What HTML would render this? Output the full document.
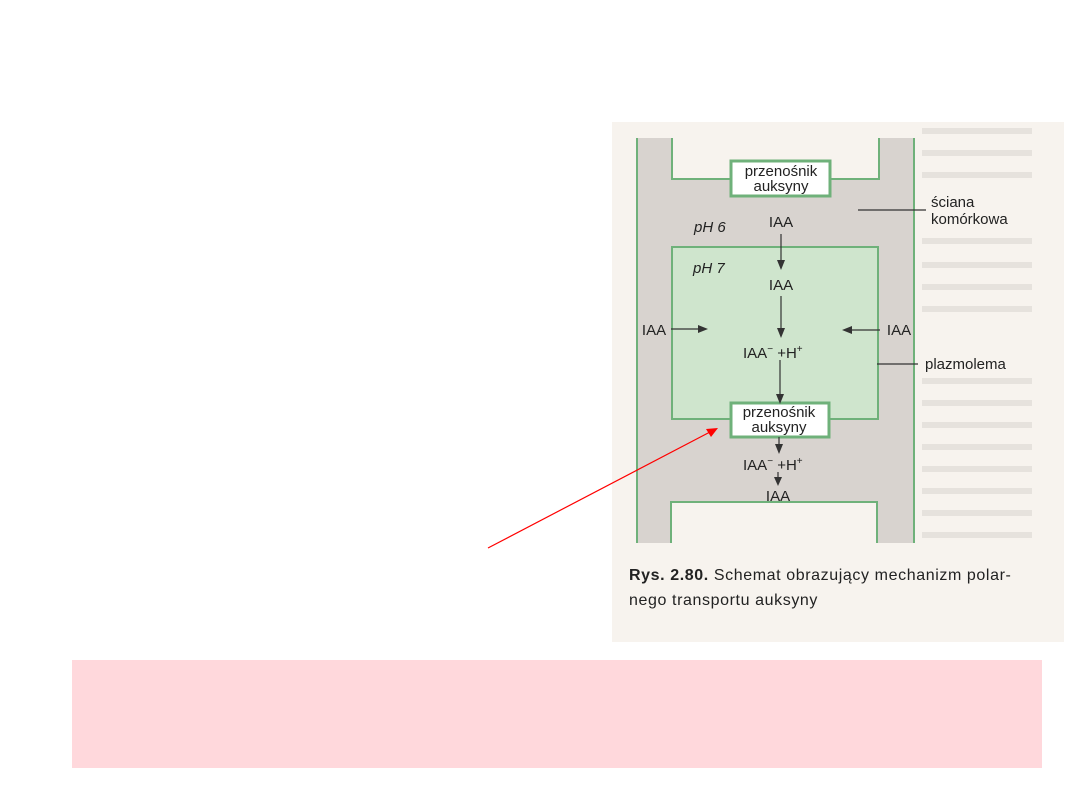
<!DOCTYPE html>
<html><head><meta charset="utf-8"><style>
body{margin:0;width:1080px;height:810px;background:#fff;position:relative;overflow:hidden;font-family:"Liberation Sans",sans-serif}
.pink{position:absolute;left:72px;top:660px;width:970px;height:108px;background:#ffd8dc}
</style></head><body>
<div class="pink"></div>
<svg width="1080" height="810" style="position:absolute;left:0;top:0" font-family="Liberation Sans, sans-serif">
<rect x="612" y="122" width="452" height="520" fill="#f7f3ee"/>
<g fill="#dcd7d2" opacity="0.6">
<rect x="922" y="128" width="110" height="6"/><rect x="922" y="150" width="110" height="6"/><rect x="922" y="172" width="110" height="6"/><rect x="922" y="238" width="110" height="6"/><rect x="922" y="262" width="110" height="6"/><rect x="922" y="284" width="110" height="6"/><rect x="922" y="306" width="110" height="6"/><rect x="922" y="378" width="110" height="6"/><rect x="922" y="400" width="110" height="6"/><rect x="922" y="422" width="110" height="6"/><rect x="922" y="444" width="110" height="6"/><rect x="922" y="466" width="110" height="6"/><rect x="922" y="488" width="110" height="6"/><rect x="922" y="510" width="110" height="6"/><rect x="922" y="532" width="110" height="6"/>
</g>
<path d="M637 138 H672 V179 H879 V138 H914 V543 H877 V502 H671 V543 H637 Z" fill="#d8d3cf"/>
<path d="M637 138 V543 M914 138 V543" stroke="#6fb17a" stroke-width="2" fill="none"/>
<path d="M672 138 V179 H879 V138 M671 543 V502 H877 V543" stroke="#6fb17a" stroke-width="2" fill="none"/>
<rect x="672" y="247" width="206" height="172" fill="#cfe5cd" stroke="#6fb17a" stroke-width="2"/>
<rect x="731" y="161" width="99" height="35" fill="#fff" stroke="#6fb17a" stroke-width="3"/>
<rect x="731" y="403" width="98" height="34" fill="#fff" stroke="#6fb17a" stroke-width="3"/>
<g fill="#222" font-size="15" text-anchor="middle">
<text x="781" y="176">przenośnik</text><text x="781" y="191">auksyny</text>
<text x="779" y="417">przenośnik</text><text x="779" y="432">auksyny</text>
<text x="781" y="227">IAA</text><text x="781" y="290">IAA</text>
<text x="778" y="501">IAA</text>
<text x="654" y="335">IAA</text><text x="899" y="335">IAA</text>
</g>
<g fill="#222" font-size="15" font-style="italic"><text x="694" y="232">pH 6</text><text x="693" y="273">pH 7</text></g>
<g fill="#222" font-size="15"><text x="743" y="358">IAA<tspan dy="-6" font-size="10">−</tspan><tspan dy="6"> +H</tspan><tspan dy="-6" font-size="10">+</tspan></text>
<text x="743" y="470">IAA<tspan dy="-6" font-size="10">−</tspan><tspan dy="6"> +H</tspan><tspan dy="-6" font-size="10">+</tspan></text>
<text x="931" y="207">ściana</text><text x="931" y="224">komórkowa</text>
<text x="925" y="369">plazmolema</text></g>
<g stroke="#333" stroke-width="1.2" fill="none">
<path d="M781 234V262M781 296V330M780 360V396M779 437V446M778 472V479M671 329H700M880 330H850M858 210H926M877 364H918"/></g>
<g fill="#333">
<path d="M777 260L785 260L781 270Z"/><path d="M777 328L785 328L781 338Z"/><path d="M776 394L784 394L780 404Z"/><path d="M775 444L783 444L779 454Z"/><path d="M774 477L782 477L778 486Z"/>
<path d="M698 325L708 329L698 333Z"/><path d="M852 326L842 330L852 334Z"/></g>
<text x="629" y="580" font-size="16" letter-spacing="0.6" fill="#222"><tspan font-weight="bold">Rys. 2.80.</tspan> Schemat obrazujący mechanizm polar-</text>
<text x="629" y="605" font-size="16" letter-spacing="0.6" fill="#222">nego transportu auksyny</text>
<line x1="488" y1="548" x2="710" y2="432" stroke="#f00" stroke-width="1.2"/>
<path d="M718 428L706 429L711 437Z" fill="#f00"/>
</svg>
</body></html>
